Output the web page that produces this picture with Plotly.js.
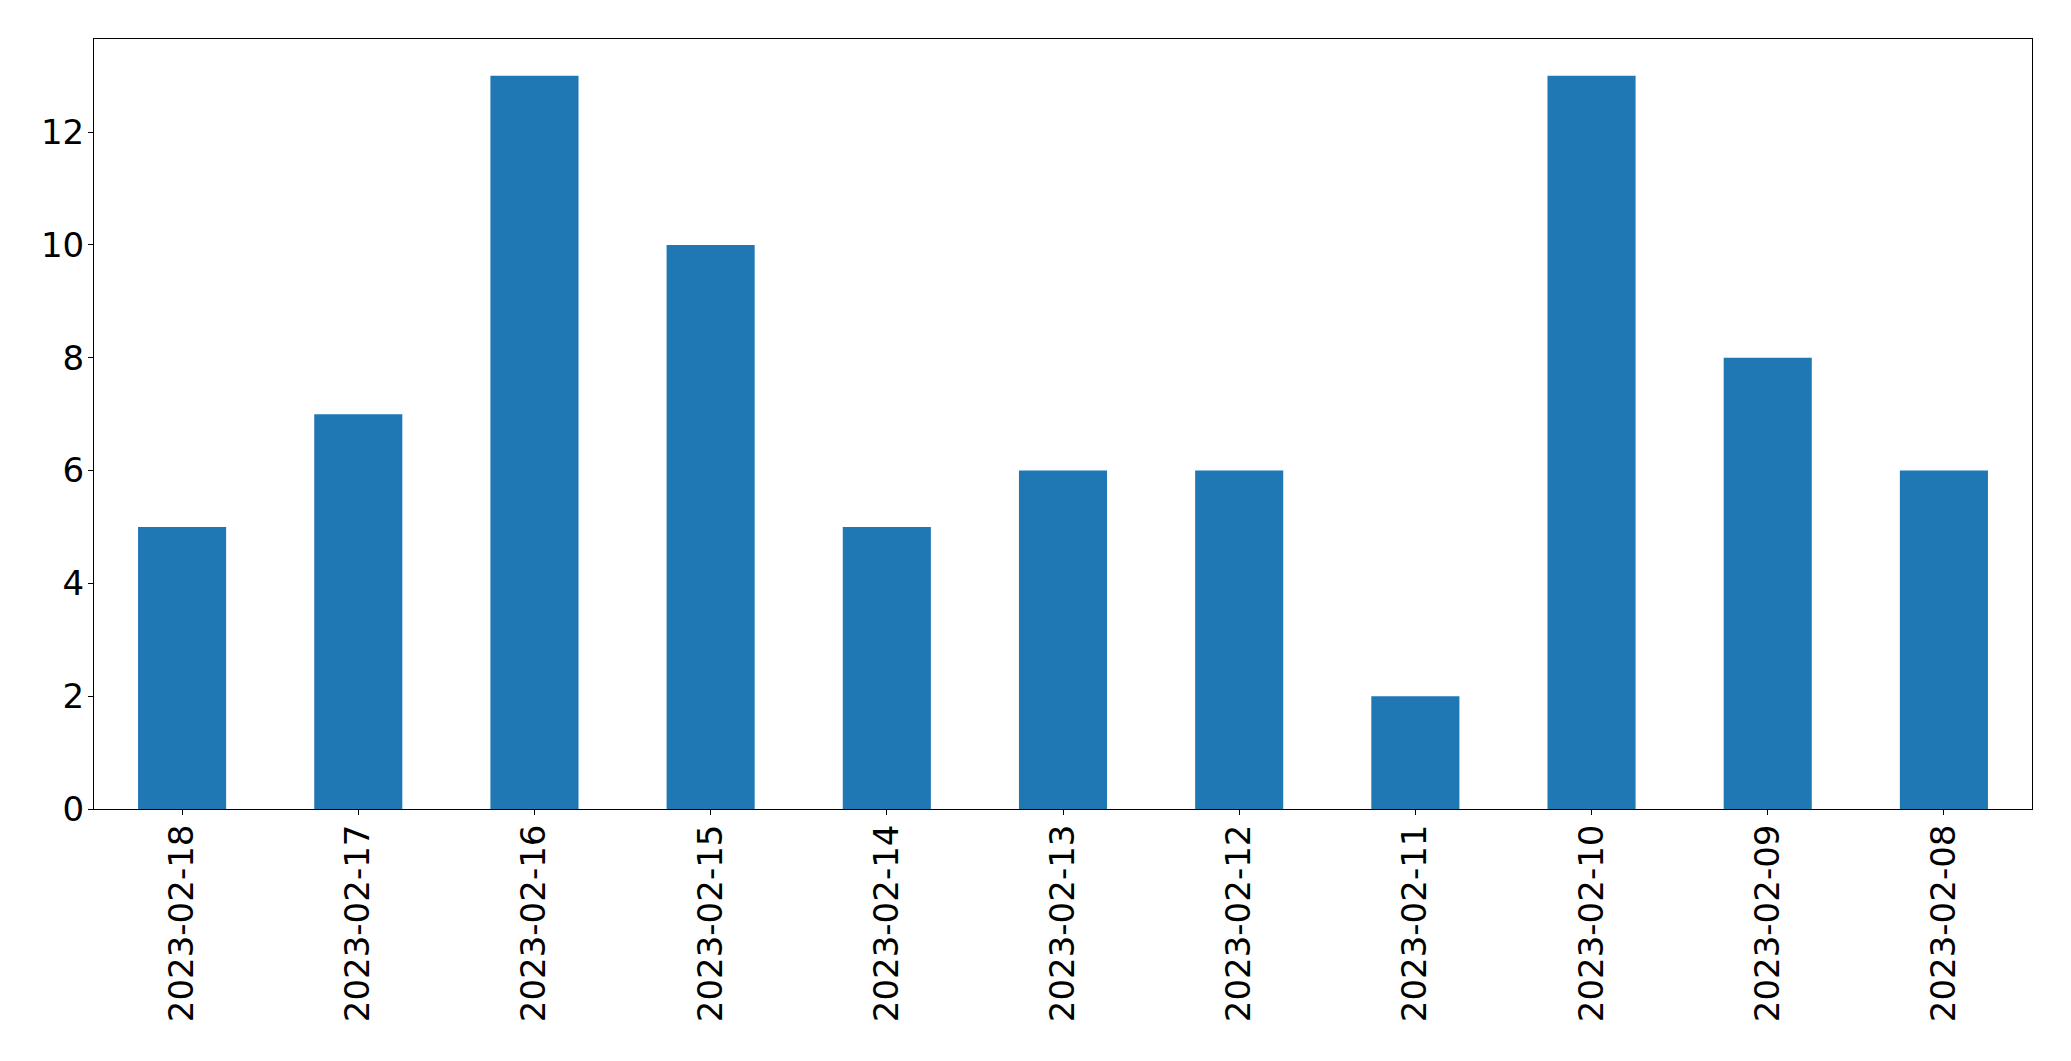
<!DOCTYPE html>
<html>
<head>
<meta charset="utf-8">
<script src="https://cdn.plot.ly/plotly-3.0.1.min.js"></script>
<style>html,body{margin:0;padding:0;background:#fff;}#chart{width:2071px;height:1061px;}</style>
</head>
<body>
<div id="chart"></div>
<script>
const categories = ["2023-02-18","2023-02-17","2023-02-16","2023-02-15","2023-02-14","2023-02-13","2023-02-12","2023-02-11","2023-02-10","2023-02-09","2023-02-08"];
const values = [5, 7, 13, 10, 5, 6, 6, 2, 13, 8, 6];
const yTicks = [0, 2, 4, 6, 8, 10, 12];

const font = {family: "DejaVu Sans", size: 34, color: "#000"};
Plotly.newPlot("chart", [{
  type: "bar",
  x: categories,
  y: values,
  width: 0.5,
  marker: {color: "#1f77b4", line: {width: 0}},
  hoverinfo: "none"
}], {
  width: 2071, height: 1061,
  margin: {l: 94, r: 39, t: 39, b: 252, pad: 0},
  paper_bgcolor: "#fff", plot_bgcolor: "#fff",
  showlegend: false,
  font: font,
  xaxis: {
    type: "category",
    range: [-0.5, 10.5],
    tickangle: -90,
    ticks: "outside", ticklen: 5, tickwidth: 1, tickcolor: "#000",
    ticklabelstandoff: -4,
    showline: true, linecolor: "#000", linewidth: 1, mirror: true,
    showgrid: false, zeroline: false,
    tickfont: font
  },
  yaxis: {
    range: [0, 13.65],
    tickvals: yTicks,
    ticks: "outside", ticklen: 5, tickwidth: 1, tickcolor: "#000",
    ticklabelstandoff: -3,
    showline: true, linecolor: "#000", linewidth: 1, mirror: true,
    showgrid: false, zeroline: false,
    tickfont: font
  }
}, {staticPlot: true});
</script>
</body>
</html>
